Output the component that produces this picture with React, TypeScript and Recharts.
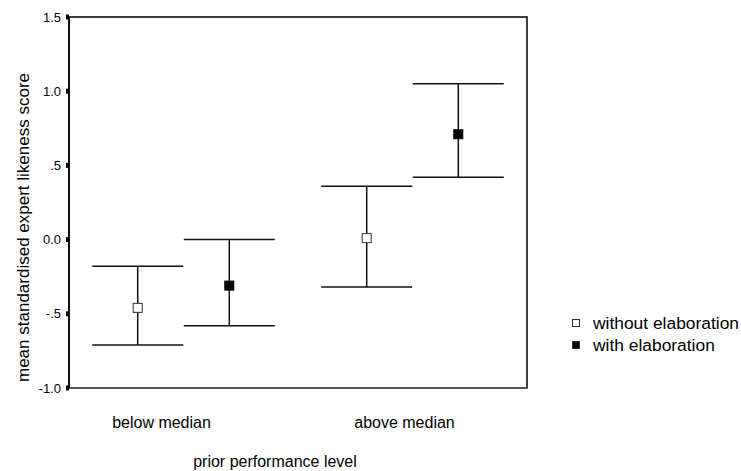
import React from 'react';
import {
  ComposedChart,
  Scatter,
  ErrorBar,
  XAxis,
  YAxis,
  ReferenceArea,
  Label,
} from 'recharts';

// Group labels along the x axis
const categories = ['below median', 'above median'];

// Means and confidence interval bounds per group
const withoutMean = [-0.46, 0.01];
const withoutLow = [-0.71, -0.32];
const withoutHigh = [-0.18, 0.36];

const withMean = [-0.31, 0.71];
const withLow = [-0.58, 0.42];
const withHigh = [0.0, 1.05];

const yTicks = [-1, -0.5, 0, 0.5, 1, 1.5];
const yTickLabels = ['-1.0', '-.5', '0.0', '.5', '1.0', '1.5'];

const FONT = '"Liberation Sans", Arial, Helvetica, sans-serif';

// each category occupies 2 units on the x axis, series sit either side of its centre
const SERIES_OFFSET = 0.4;

const buildPoints = (mean: number[], low: number[], high: number[], side: number) =>
  mean.map((m, i) => ({
    x: i * 2 + 1 + side * SERIES_OFFSET,
    y: m,
    err: [m - low[i], high[i] - m],
  }));

const series = [
  { name: 'without elaboration', filled: false, data: buildPoints(withoutMean, withoutLow, withoutHigh, -1) },
  { name: 'with elaboration', filled: true, data: buildPoints(withMean, withLow, withHigh, 1) },
];

const squareShape = (filled: boolean) => (props: any) => {
  const { cx, cy } = props;
  const s = 9;
  return (
    <rect
      x={cx - s / 2}
      y={cy - s / 2}
      width={s}
      height={s}
      fill={filled ? '#000' : '#fff'}
      stroke={filled ? '#000' : '#333'}
      strokeWidth={1}
    />
  );
};

// SPSS-style labels sit a little left of the category centre
const tickShift = [-22, -8];

const CategoryTick = (props: any) => {
  const { x, y, payload, index } = props;
  const i = Math.round((payload.value - 1) / 2);
  return (
    <text
      x={x + (tickShift[index] ?? 0)}
      y={y + 40}
      textAnchor="middle"
      fontFamily={FONT}
      fontSize={16}
      fill="#000"
    >
      {categories[i]}
    </text>
  );
};

export default function App() {
  return (
    <div style={{ position: 'relative', width: 741, height: 471, background: '#fff' }}>
      <style>{'body{margin:0}'}</style>
      <ComposedChart
        width={741}
        height={471}
        margin={{ top: 17, right: 214, bottom: 0, left: 0 }}
      >
        <XAxis
          type="number"
          dataKey="x"
          domain={[0, 4]}
          ticks={[1, 3]}
          tickLine={false}
          tickSize={0}
          tickMargin={0}
          height={83}
          axisLine={{ stroke: '#555', strokeWidth: 2 }}
          tick={<CategoryTick />}
          interval={0}
        >
          <Label
            value="prior performance level"
            position="insideBottom"
            offset={4}
            dx={-23}
            style={{ fontFamily: FONT, fontSize: 16, fill: '#000' }}
          />
        </XAxis>
        <YAxis
          type="number"
          dataKey="y"
          domain={[-1, 1.5]}
          ticks={yTicks}
          interval={0}
          width={69}
          tickSize={3}
          tickMargin={5}
          tickLine={{ stroke: '#000', strokeWidth: 5 }}
          axisLine={{ stroke: '#000', strokeWidth: 1.5 }}
          tickFormatter={(v: number) => yTickLabels[yTicks.indexOf(v)] ?? String(v)}
          tick={{ fontFamily: FONT, fontSize: 13, fill: '#000' }}
        >
          <Label
            content={(props: any) => {
              const vb = props.viewBox;
              const cx = vb.x + 23;
              const cy = vb.y + vb.height / 2 + 25;
              return (
                <text
                  x={cx}
                  y={cy}
                  transform={`rotate(-90 ${cx} ${cy})`}
                  textAnchor="middle"
                  dominantBaseline="central"
                  fontFamily={FONT}
                  fontSize={17}
                  fill="#000"
                >
                  mean standardised expert likeness score
                </text>
              );
            }}
          />
        </YAxis>
        <ReferenceArea
          x1={0}
          x2={4}
          y1={-1}
          y2={1.5}
          fill="none"
          stroke="#000"
          strokeWidth={1.5}
          ifOverflow="visible"
        />
        {series.map((s) => (
          <Scatter
            key={s.name}
            name={s.name}
            data={s.data}
            shape={squareShape(s.filled)}
            isAnimationActive={false}
          >
            <ErrorBar
              dataKey="err"
              direction="y"
              width={45.5}
              stroke="#111"
              strokeWidth={1.5}
              isAnimationActive={false}
            />
          </Scatter>
        ))}
      </ComposedChart>
      <div
        style={{
          position: 'absolute',
          left: 572,
          top: 312,
          fontFamily: FONT,
          fontSize: 17.4,
          lineHeight: '22px',
          color: '#000',
        }}
      >
        {series.map((s) => (
          <div key={s.name} style={{ display: 'flex', alignItems: 'center', whiteSpace: 'nowrap' }}>
            <span
              style={{
                display: 'inline-block',
                width: 8,
                height: 8,
                boxSizing: 'border-box',
                border: '1px solid #333',
                background: s.filled ? '#000' : '#fff',
                marginRight: 13,
              }}
            />
            <span>{s.name}</span>
          </div>
        ))}
      </div>
    </div>
  );
}
